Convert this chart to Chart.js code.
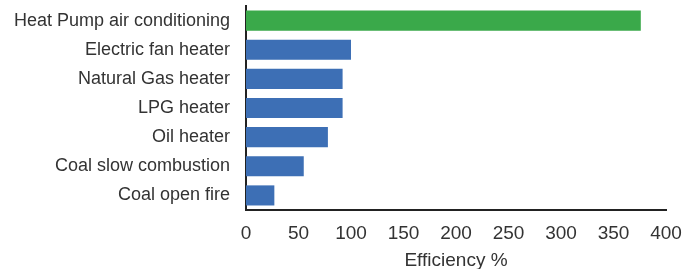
<!DOCTYPE html>
<html>
<head>
<meta charset="utf-8">
<script src="https://cdn.jsdelivr.net/npm/chart.js@4"></script>
<style>
  html, body { margin: 0; padding: 0; background: #fff; }
  #wrap { width: 683px; height: 269px; }
</style>
</head>
<body>
<div id="wrap"><canvas id="chart"></canvas></div>
<script>
// Data
const categories = [
    "Heat Pump air conditioning",
    "Electric fan heater",
    "Natural Gas heater",
    "LPG heater",
    "Oil heater",
    "Coal slow combustion",
    "Coal open fire"
];
const efficiency = [376, 100, 92, 92, 78, 55, 27];
const barColors = ["#3aa94a", "#3d6fb5", "#3d6fb5", "#3d6fb5", "#3d6fb5", "#3d6fb5", "#3d6fb5"];
const xTicks = [0, 50, 100, 150, 200, 250, 300, 350, 400];

const ctx = document.getElementById('chart').getContext('2d');

new Chart(ctx, {
    type: 'bar',
    data: {
        labels: categories,
        datasets: [{
            data: efficiency,
            backgroundColor: barColors,
            borderWidth: 0,
            barPercentage: 0.69,
            categoryPercentage: 1.0
        }]
    },
    options: {
        indexAxis: 'y',
        responsive: true,
        maintainAspectRatio: false,
        animation: false,
        layout: { padding: { top: 6, right: 17, left: 0, bottom: 0 } },
        plugins: {
            legend: { display: false },
            tooltip: { enabled: false }
        },
        scales: {
            x: {
                min: 0,
                max: 400,
                afterBuildTicks: scale => { scale.ticks = xTicks.map(v => ({ value: v })); },
                afterFit: scale => {
                    scale.height = 59;
                    scale.paddingLeft = 0;
                    scale.paddingRight = 0;
                },
                grid: { display: false, drawTicks: false },
                border: { display: true, color: '#222', width: 2 },
                ticks: {
                    color: '#333',
                    font: { family: 'Liberation Sans', size: 19 },
                    padding: 12
                },
                title: {
                    display: true,
                    text: 'Efficiency %',
                    color: '#333',
                    font: { family: 'Liberation Sans', size: 19 },
                    padding: { top: 5, bottom: -3 }
                }
            },
            y: {
                afterFit: scale => {
                    scale.width = 246;
                    scale.paddingTop = 0;
                    scale.paddingBottom = 0;
                },
                grid: { display: false, drawTicks: false },
                border: { display: true, color: '#222', width: 2 },
                ticks: {
                    color: '#333',
                    font: { family: 'Liberation Sans', size: 18 },
                    padding: 16
                }
            }
        }
    }
});
</script>
</body>
</html>
